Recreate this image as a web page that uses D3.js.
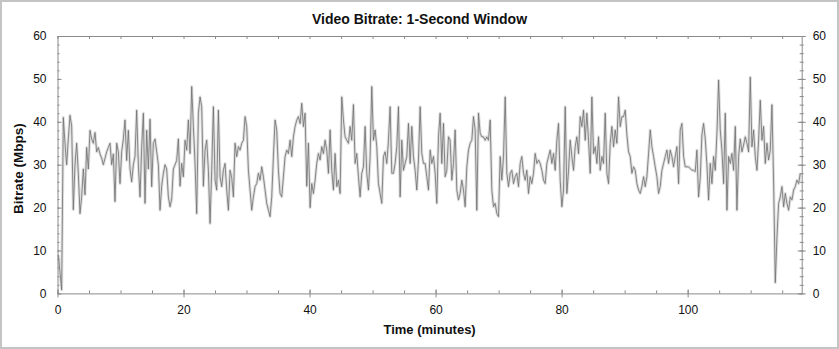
<!DOCTYPE html>
<html>
<head>
<meta charset="utf-8">
<script src="https://cdn.jsdelivr.net/npm/d3@7"></script>
<style>
  html, body { margin: 0; padding: 0; background: #fff; }
  svg { display: block; font-family: "Liberation Sans", Arial, sans-serif; }
</style>
</head>
<body>
<svg id="chart" width="839" height="349"></svg>
<script>
// ---- data ----
const chartTitle = "Video Bitrate: 1-Second Window";
const xLabel = "Time (minutes)";
const yLabel = "Bitrate (Mbps)";
const xMajorTicks = [0, 20, 40, 60, 80, 100];
const yMajorTicks = [0, 10, 20, 30, 40, 50, 60];
const xDomain = [0, 118.1];
const yDomain = [0, 60];
const startMin = 0.13;      // time of first reading (minutes)
const stepMin = 0.2646;     // spacing between readings (minutes)

const bitrateMin0to19 = [9, 5, 0.8, 41, 35, 30, 36, 41.5, 39, 19.5,
 30, 35, 28, 18.6, 22.5, 29, 23, 34, 29, 38,
 36, 35, 37.5, 33, 34, 32.5, 31.5, 30, 31.5, 33,
 34, 35, 30, 32.5, 21.4, 35, 33, 25.6, 33, 36,
 40.4, 31, 38, 29, 26, 30, 32, 42.7, 30, 22.5,
 34, 42, 21, 38, 29, 40.6, 24.9, 35, 36, 33,
 30, 19.4, 25, 28, 30, 29, 22.5, 20.2, 22, 29];
const bitrateMin19to39 = [30, 31, 36, 25, 30.3, 27.2, 35.7, 33.4, 40.4, 32.6,
 48.2, 38.9, 30.3, 18.6, 42, 45.8, 43.5, 25, 33.4, 35.7,
 28.7, 16.3, 28.7, 43.5, 26.4, 24.1, 42.7, 27.2, 24.9, 28.7,
 30.3, 24.1, 19.4, 28.7, 27, 22.5, 35, 31.9, 34.2, 33.4,
 35, 35.7, 41.2, 38.9, 28.7, 24.1, 19.4, 22.5, 24.9, 25.6,
 28, 26.4, 29.5, 27.2, 24.1, 21, 19.4, 17.9, 22.5, 31.9,
 40.4, 38.1, 28.7, 23.3, 22.5, 27.2, 31.9, 33.4, 32.6, 35.7,
 31.9, 36.5, 38.9, 40.4, 41.2];
const bitrateMin39to58 = [39.6, 44.3, 38.9, 42, 25, 35, 20, 25.6, 23.3, 26.4,
 30.3, 32.6, 31.1, 34.2, 32.6, 35.7, 33.4, 28, 38.1, 28.7,
 24.1, 32.6, 24.9, 26.4, 23.3, 45.8, 40.4, 36.5, 35.7, 35,
 38.9, 35.7, 44, 30.3, 32.6, 27.2, 22.5, 28, 29.5, 38.9,
 28, 24.1, 31.9, 48.2, 35.7, 38.1, 34.2, 25.6, 23.3, 21,
 31.9, 33, 30.3, 35.7, 43.5, 28, 28, 30.3, 34.2, 43.5,
 22.5, 35.7, 28.7, 30.3, 31.9, 39.6, 30.3, 38.9, 31.9, 28.7,
 24.1, 31.1, 43.5, 32.6, 30.3];
const bitrateMin58to78 = [30.3, 27.2, 24.1, 33.4, 30.3, 31.9, 28, 21, 36.5, 42,
 30.3, 39.6, 27.2, 28.7, 36.5, 35.7, 26.4, 30.3, 38.1, 24.1,
 21.8, 23.3, 26.4, 24.1, 20.2, 29.5, 33.4, 35, 35.7, 41.2,
 38.1, 19.4, 42, 37.3, 36.5, 36.5, 35.7, 36.5, 35.7, 40.4,
 24, 20.2, 21, 18.6, 17.9, 31.9, 26.4, 31.9, 45.8, 28,
 24.9, 28, 28.7, 25.6, 27.2, 28, 24.9, 30.3, 31.9, 28,
 26.4, 28.7, 23.3, 27.2, 25.6, 28, 32.6, 30.3, 31.1, 30.3,
 28.7, 26.4, 25.6, 30.3, 31.9];
const bitrateMin78to98 = [33.4, 30.3, 32.6, 28.7, 35.7, 39.6, 26.4, 20.2, 24.1, 43.5,
 23.3, 28.7, 35.7, 31.9, 28.7, 34.2, 36.5, 32.6, 41.2, 38.9,
 42.7, 35.7, 42, 35.7, 28, 45.8, 32.6, 34.2, 30.3, 36.5,
 28.7, 31.9, 30.3, 42, 28, 25.6, 35, 38.9, 34.2, 38.1,
 35, 45.8, 38.9, 41.2, 41.2, 42.7, 37, 33, 31.9, 28,
 29.5, 28.7, 25.6, 24.1, 23.3, 24.9, 27.2, 24.9, 27.2, 32.6,
 38.1, 34.2, 31.9, 29.5, 27.2, 23.3, 24.9, 28.7, 30.3, 31.9,
 33.4, 30.3, 33.4, 31.9, 29.5];
const bitrateMin98to118 = [31.9, 34.2, 25.6, 38.1, 39.6, 31.9, 29.5, 29.5, 29.5, 29.1,
 28.7, 28.7, 28.4, 33.4, 22.5, 27, 37, 39.6, 36, 30,
 21.8, 30.3, 25.6, 31.9, 28.7, 37.3, 49.7, 38.1, 33.4, 25.6,
 42, 19.4, 31.9, 30.3, 32.6, 28.7, 38.9, 19.4, 31.9, 36,
 33, 34.6, 36.5, 35, 33, 50.4, 34.2, 38.1, 31.9, 28.7,
 35.7, 45, 35.7, 38.9, 30.3, 35, 31.1, 33.4, 44, 26,
 2.5, 13, 21, 22.5, 24.9, 20.2, 23.3, 21, 19.4, 22.5,
 21.8, 24.1, 24.9, 26.4, 25.6, 28];

const bitrate = [].concat(bitrateMin0to19, bitrateMin19to39, bitrateMin39to58,
  bitrateMin58to78, bitrateMin78to98, bitrateMin98to118);
const series = bitrate.map((v, i) => ({ t: startMin + i * stepMin, v }));

// ---- layout ----
const W = 839, H = 349;
const m = { left: 57.5, right: 37.3, top: 36, bottom: 55.6 };
const iw = W - m.left - m.right, ih = H - m.top - m.bottom;

const svg = d3.select("#chart");

// outer frame
svg.append("rect").attr("x", 1).attr("y", 1).attr("width", W - 2).attr("height", H - 2)
  .attr("fill", "#fff").attr("stroke", "#c4c4c4").attr("stroke-width", 2);

const x = d3.scaleLinear().domain(xDomain).range([0, iw]);
const y = d3.scaleLinear().domain(yDomain).range([ih, 0]);

const g = svg.append("g").attr("transform", `translate(${m.left},${m.top})`);

// data line
const line = d3.line().x(d => x(d.t)).y(d => y(d.v));
g.append("path").datum(series).attr("d", line)
  .attr("fill", "none").attr("stroke", "#c9c9c9").attr("stroke-width", 3)
  .attr("stroke-linejoin", "round").attr("opacity", 0.6);
g.append("path").datum(series).attr("d", line)
  .attr("fill", "none").attr("stroke", "#6f6f6f").attr("stroke-width", 0.8)
  .attr("stroke-linejoin", "round");

const axisColor = "#8a8a8a";
function styleAxis(sel) {
  sel.select(".domain").attr("stroke", axisColor);
  sel.selectAll(".tick line").attr("stroke", axisColor);
  sel.selectAll(".tick text").attr("fill", "#111").attr("font-size", 12)
     .attr("font-family", "'Liberation Sans', Arial, sans-serif");
}

const xMinor = d3.range(0, 118, 5);
const yMinor = d3.range(0, 61, 2);

// bottom minor (inward)
g.append("g").attr("transform", `translate(0,${ih})`)
  .call(d3.axisBottom(x).tickValues(xMinor).tickSize(-3).tickSizeOuter(0).tickFormat(""))
  .call(styleAxis);
// bottom major (crossing) + labels
const bx = g.append("g").attr("transform", `translate(0,${ih})`)
  .call(d3.axisBottom(x).tickValues(xMajorTicks).tickSize(4).tickSizeOuter(0).tickPadding(8))
  .call(styleAxis);
bx.select(".domain").remove();
bx.selectAll(".tick line").attr("y1", -4);

// top minor (inward)
g.append("g")
  .call(d3.axisTop(x).tickValues(xMinor).tickSize(-3).tickSizeOuter(0).tickFormat(""))
  .call(styleAxis);

// left
g.append("g")
  .call(d3.axisLeft(y).tickValues(yMinor).tickSize(2).tickSizeOuter(0).tickFormat(""))
  .call(styleAxis)
  .selectAll(".tick line").attr("x2", 2);
const ly = g.append("g")
  .call(d3.axisLeft(y).tickValues(yMajorTicks).tickSize(4).tickSizeOuter(0).tickPadding(7))
  .call(styleAxis);
ly.select(".domain").remove();
ly.selectAll(".tick line").attr("x2", 4);

// right
const rg = g.append("g").attr("transform", `translate(${iw},0)`);
rg.append("g")
  .call(d3.axisRight(y).tickValues(yMinor).tickSize(2).tickSizeOuter(0).tickFormat(""))
  .call(styleAxis)
  .selectAll(".tick line").attr("x2", 2).attr("x1", -2);
const ry = rg.append("g")
  .call(d3.axisRight(y).tickValues(yMajorTicks).tickSize(4).tickSizeOuter(0).tickPadding(7))
  .call(styleAxis);
ry.select(".domain").remove();
ry.selectAll(".tick line").attr("x1", -4);

// titles
svg.append("text").attr("x", 419.5).attr("y", 23.5).attr("text-anchor", "middle")
  .attr("font-size", 14).attr("font-weight", "bold").attr("fill", "#111").text(chartTitle);
svg.append("text").attr("x", m.left + iw / 2).attr("y", 334).attr("text-anchor", "middle")
  .attr("font-size", 13).attr("font-weight", "bold").attr("fill", "#111").text(xLabel);
svg.append("text").attr("transform", `translate(23,${m.top + ih / 2 + 4}) rotate(-90)`)
  .attr("text-anchor", "middle")
  .attr("font-size", 13.5).attr("font-weight", "bold").attr("fill", "#111").text(yLabel);
</script>
</body>
</html>
